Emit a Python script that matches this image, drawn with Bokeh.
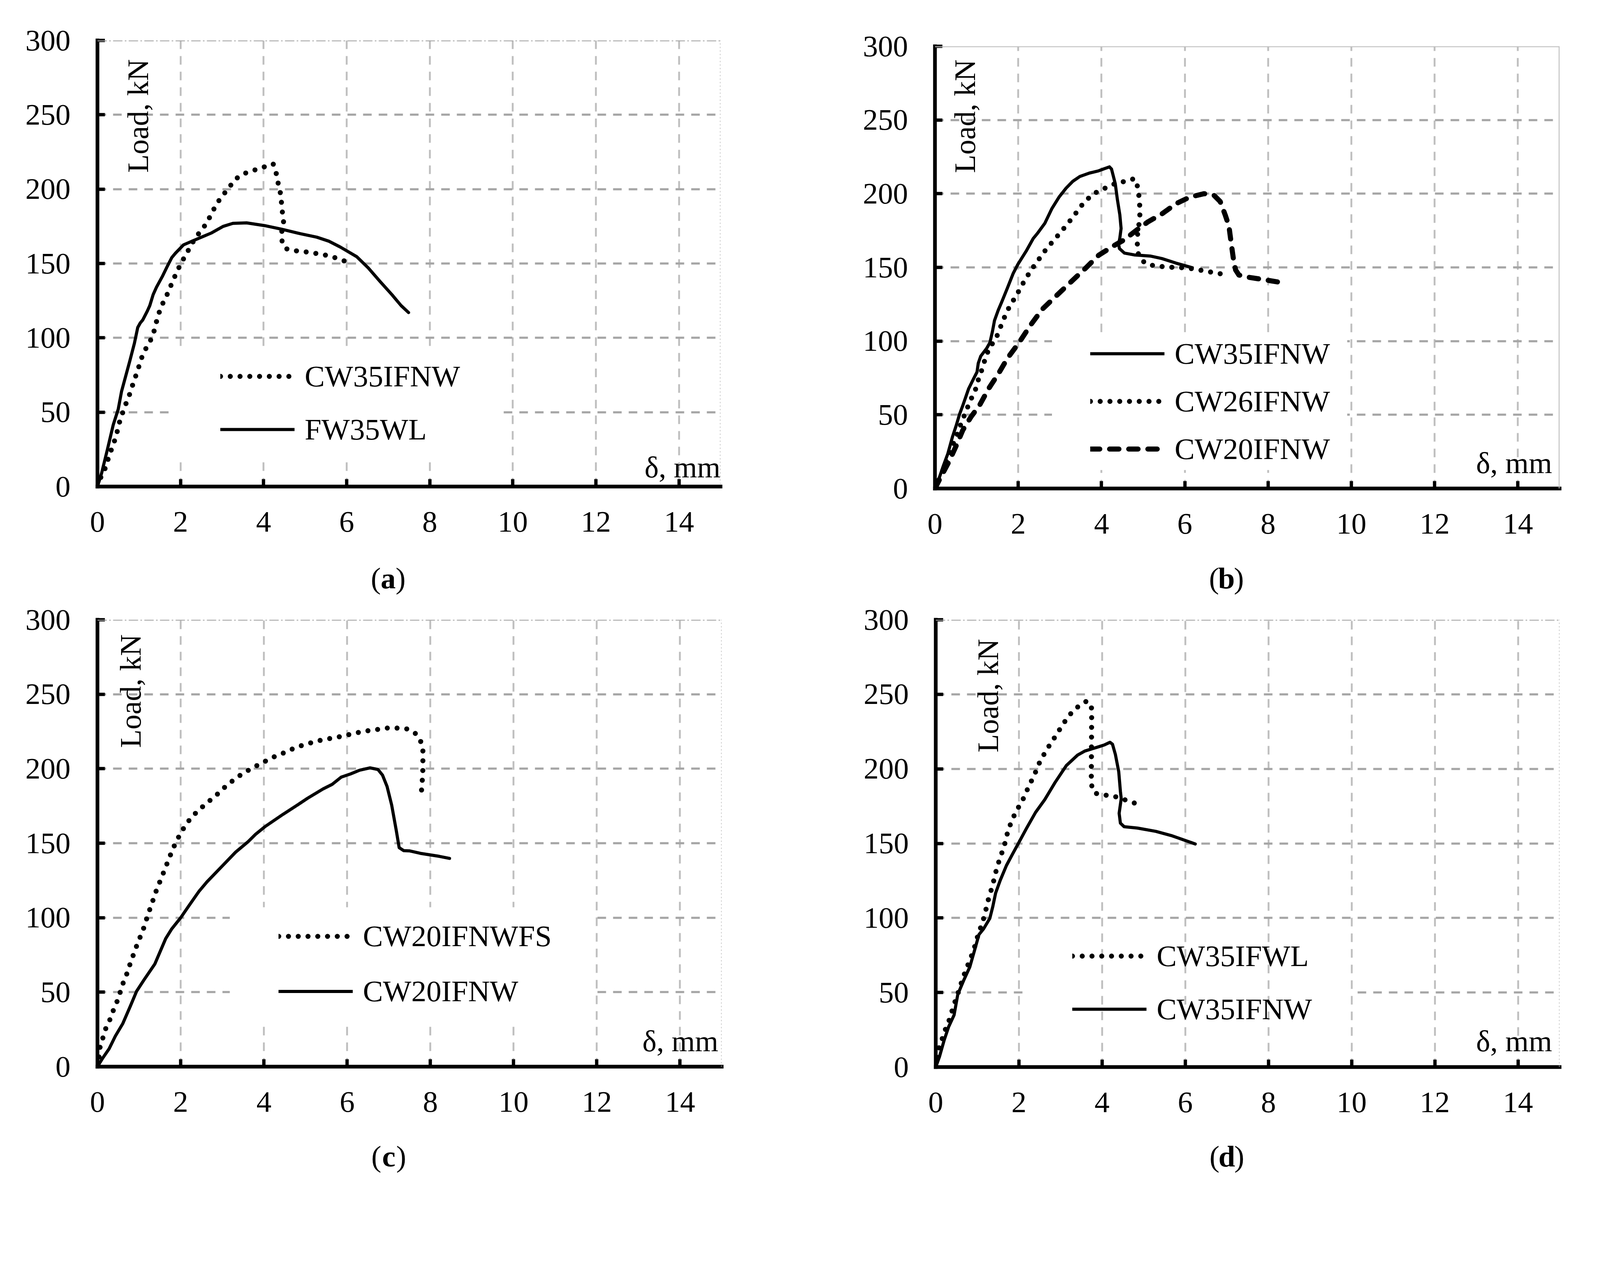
import numpy as np
from bokeh.plotting import figure
from bokeh.models import Range1d, FixedTicker, Span, Label, Legend, LegendItem
from bokeh.layouts import column, row
from bokeh.embed import file_html
from bokeh.resources import INLINE

# ---------------- data ----------------
X_TICKS = [0, 2, 4, 6, 8, 10, 12, 14]
Y_TICKS = [0, 50, 100, 150, 200, 250, 300]
X_MAX = 15
Y_MAX = 300
X_LABEL = "δ, mm"
Y_LABEL = "Load, kN"
PANEL_LETTERS = ["a", "b", "c", "d"]

# panel (a)
A1_NAME = "CW35IFNW"
A1_X = [0, 0.05, 0.17, 0.24, 0.31, 0.39, 0.46, 0.51, 0.58, 0.66, 0.75, 0.82, 0.89, 0.97, 1.03, 1.11,
        1.23, 1.33, 1.39, 1.45, 1.52, 1.62, 1.71, 1.80, 1.89, 1.99, 2.11, 2.21, 2.33, 2.46, 2.60, 2.72,
        2.82, 2.94, 3.08, 3.22, 3.38, 3.58, 3.80, 4.02, 4.23, 4.31, 4.35, 4.40, 4.43, 4.45, 4.48, 4.44,
        4.43, 4.53, 4.75, 4.97, 5.21, 5.43, 5.65, 5.86, 6.08]
A1_Y = [0, 4.5, 11, 17, 23, 29, 35, 41.5, 47.5, 54, 60, 66, 72, 78, 84, 90,
        96, 101, 107.6, 114, 120, 126, 131, 137.5, 143, 149, 155, 160, 166, 171, 176, 182,
        187.5, 193, 198, 203, 208, 211, 213, 215, 217, 210, 204, 198, 191, 185, 178, 172,
        166, 160, 158.6, 158, 157, 156, 154.6, 152.5, 150.4]
A2_NAME = "FW35WL"
A2_X = [0, 0.10, 0.24, 0.38, 0.50, 0.58, 0.78, 0.89, 0.97, 1.03, 1.09, 1.20, 1.26, 1.34, 1.42, 1.57,
        1.68, 1.79, 1.88, 2.07, 2.36, 2.75, 3.03, 3.26, 3.59, 4.02, 4.44, 4.89, 5.28, 5.57, 5.85, 6.24,
        6.52, 6.80, 7.09, 7.31, 7.49]
A2_Y = [0, 9, 25, 41.5, 52, 64, 84.6, 96.4, 107, 110, 112, 118, 121.7, 129, 134, 141.7,
        148, 154, 157, 162.5, 166, 170.6, 175, 177, 177.3, 175.5, 173, 170, 167.7, 165, 161, 154.6,
        147, 138, 129, 121.7, 117]

# panel (b)
B1_NAME = "CW35IFNW"
B1_X = [0, 0.11, 0.20, 0.31, 0.42, 0.51, 0.59, 0.67, 0.81, 0.93, 1.01, 1.04, 1.10, 1.24, 1.32, 1.38,
        1.43, 1.52, 1.60, 1.74, 1.88, 1.99, 2.19, 2.36, 2.47, 2.64, 2.81, 2.98, 3.15, 3.31, 3.48, 3.71,
        3.93, 4.07, 4.19, 4.24, 4.33, 4.38, 4.44, 4.47, 4.44, 4.41, 4.43, 4.55, 4.78, 5.17, 5.45, 5.79, 6.18]
B1_Y = [0, 7.8, 15.3, 23.7, 35, 42.7, 50.3, 56.4, 67.8, 74.6, 79, 85, 89.8, 95, 99, 106.5,
        114, 121, 126.3, 136, 146, 152, 161, 169.6, 173.4, 180, 190, 197.7, 203.8, 208.4, 211.7, 214,
        215.5, 217, 218.2, 216.7, 206.8, 196.2, 185.6, 176.4, 170, 165.8, 162.8, 159.7, 158.5, 157.7, 156, 152.9, 149.8]
B2_NAME = "CW26IFNW"
B2_X = [0, 0.08, 0.17, 0.25, 0.34, 0.42, 0.51, 0.59, 0.67, 0.76, 0.84, 0.96, 1.01, 1.10, 1.15, 1.24,
        1.29, 1.46, 1.54, 1.63, 1.71, 1.83, 1.96, 2.05, 2.19, 2.30, 2.43, 2.57, 2.71, 2.87, 3.01, 3.16,
        3.30, 3.44, 3.58, 3.75, 3.93, 4.16, 4.38, 4.60, 4.79, 4.88, 4.90, 4.92, 4.92, 4.89, 4.86, 4.86,
        4.89, 5.04, 5.27, 5.49, 5.73, 5.96, 6.18, 6.40, 6.63, 6.85, 7.08]
B2_Y = [0, 4.7, 10.8, 16.9, 23, 29, 35.1, 41.2, 47.3, 53.3, 59.4, 65.5, 71.6, 77.7, 83.7, 89.8,
        95, 101.2, 107.3, 113.4, 119, 125.5, 130.9, 136.2, 142.7, 147.9, 152.9, 158.5, 163.8, 168.8, 173.7, 178.6,
        183.7, 188.9, 194.2, 198.5, 202, 204.6, 207.6, 208.4, 210.3, 203.8, 197.7, 190.9, 184, 177.2, 171.1, 164.7,
        158.2, 152.9, 151, 150.5, 150, 149.8, 149.1, 148, 146.8, 145.7, 145]
B3_NAME = "CW20IFNW"
B3_X = [0, 0.14, 0.34, 0.51, 0.67, 0.87, 1.07, 1.29, 1.52, 1.74, 2.02, 2.30, 2.58, 2.92, 3.26, 3.60,
        3.93, 4.27, 4.55, 4.83, 5.12, 5.45, 5.79, 6.12, 6.46, 6.69, 6.85, 6.97, 7.06, 7.11, 7.17, 7.22,
        7.30, 7.53, 7.87, 8.26]
B3_Y = [0, 7.8, 18.4, 29, 39.7, 48.8, 56.4, 67.8, 77.7, 88.3, 99, 111, 121.7, 130.9, 140, 149,
        158.2, 164.3, 168.8, 175, 181, 186.3, 193.2, 197.7, 200, 199.2, 194.7, 185.6, 178, 167.3, 155.2, 148.3,
        144.8, 143.3, 141.8, 140]

# panel (c)
C1_NAME = "CW20IFNWFS"
C1_X = [0, 0.04, 0.06, 0.13, 0.19, 0.29, 0.37, 0.46, 0.54, 0.60, 0.69, 0.76, 0.84, 0.92, 1.00, 1.09,
        1.16, 1.23, 1.31, 1.38, 1.46, 1.55, 1.63, 1.72, 1.80, 1.90, 2.00, 2.13, 2.26, 2.43, 2.60, 2.77,
        2.95, 3.11, 3.30, 3.49, 3.68, 3.89, 4.10, 4.29, 4.51, 4.72, 4.95, 5.17, 5.39, 5.61, 5.84, 6.06,
        6.28, 6.52, 6.74, 6.96, 7.19, 7.42, 7.63, 7.76, 7.82, 7.82, 7.82, 7.81, 7.79, 7.78]
C1_Y = [0, 6.6, 12.8, 19.3, 25, 30.9, 37, 42.9, 49.4, 55, 61, 67, 73.3, 79.5, 85.3, 91.2,
        97.4, 103.4, 109.6, 115.7, 121.5, 127.5, 133.5, 139.5, 145.7, 151.2, 157, 162.5, 167.6, 172, 176.4, 180.2,
        184.6, 189, 193, 196.8, 199.8, 203, 206, 208.6, 211, 213.7, 216, 217.7, 219.3, 220.4, 221.6, 223,
        224.4, 225.6, 226.4, 227.3, 227.3, 226.9, 224, 219, 213, 206.5, 200, 193.7, 187, 180.6]
C2_NAME = "CW20IFNW"
C2_X = [0, 0.13, 0.28, 0.43, 0.61, 0.79, 0.94, 1.12, 1.38, 1.64, 1.78, 2.00, 2.19, 2.44, 2.63, 3.00,
        3.32, 3.62, 3.80, 4.02, 4.46, 4.76, 5.05, 5.42, 5.64, 5.86, 6.08, 6.30, 6.55, 6.74, 6.85, 6.96,
        7.07, 7.18, 7.25, 7.36, 7.51, 7.76, 8.21, 8.46]
C2_Y = [0, 5.9, 12, 20.5, 29, 40.6, 50.6, 58.3, 69, 86, 92.3, 100, 107.7, 117.7, 124, 134.7,
        144, 151, 156, 161, 169.4, 174.8, 180.2, 186.4, 189.5, 194.4, 196.5, 199, 200.6, 199.5, 195.7, 188,
        175.6, 158.6, 147, 145, 144.8, 143.2, 141.2, 139.8]

# panel (d)
D1_NAME = "CW35IFWL"
D1_X = [0, 0.07, 0.15, 0.22, 0.31, 0.38, 0.45, 0.53, 0.60, 0.67, 0.75, 0.84, 0.92, 0.98, 1.05, 1.13,
        1.19, 1.24, 1.30, 1.37, 1.42, 1.48, 1.55, 1.63, 1.69, 1.74, 1.83, 1.92, 2.04, 2.15, 2.23, 2.34,
        2.43, 2.52, 2.64, 2.76, 2.89, 3.01, 3.14, 3.28, 3.45, 3.64, 3.75, 3.74, 3.82, 4.04, 4.27, 4.49,
        4.70, 4.92]
D1_Y = [0, 12.4, 18.5, 24.4, 30.4, 36.6, 42.8, 49, 55.2, 61, 66.9, 73.1, 79.1, 85.3, 91.2, 97.5,
        103.6, 109.7, 115.9, 121.9, 128.3, 134.5, 140.6, 146.8, 152.7, 159.2, 164.9, 171.1, 176.5, 182.4, 188.1, 194,
        199.8, 205.9, 211.4, 217, 222.3, 227.8, 233.2, 238.2, 242.4, 245.6, 240.6, 189.5, 183.7, 182.5, 181.8, 179.8,
        177.8, 175.7]
D2_NAME = "CW35IFNW"
D2_X = [0, 0.09, 0.20, 0.31, 0.44, 0.53, 0.67, 0.82, 0.93, 1.04, 1.15, 1.30, 1.37, 1.44, 1.55, 1.70,
        1.85, 2.00, 2.18, 2.40, 2.62, 2.87, 3.14, 3.41, 3.59, 3.88, 4.06, 4.19, 4.25, 4.32, 4.40, 4.44,
        4.46, 4.41, 4.44, 4.53, 4.85, 5.29, 5.66, 6.24]
D2_Y = [0, 7, 17.8, 27, 34.8, 48.7, 58, 67.2, 78, 88.9, 92.7, 99.7, 107.4, 116.7, 125.2, 135.2,
        143, 150.7, 160, 170.8, 179.3, 190.9, 202.2, 209.2, 212, 214.5, 216.1, 217.8, 216.5, 209.6, 198.1, 185,
        180, 170.2, 163.6, 161.2, 160.3, 158.1, 155.3, 149.6]

# ---------------- styles / layout (page px) ----------------
S = 1 / 1.0625          # page px per photographed px
FONT = "Liberation Serif"
FS = "77px"
STYLES = {
    "solid": dict(line_dash="solid", line_width=8),
    "dotted": dict(line_dash="0 25", line_width=13),
    "dashed": dict(line_dash="24 25", line_width=13),
}

PANELS = [
    dict(series=[(A1_NAME, A1_X, A1_Y, "dotted"), (A2_NAME, A2_X, A2_Y, "solid")],
         width=2047, height=1408, frame=(1595, 1142), left=249, top=103, cap_h=127, cap_y=0.437,
         border_style="dashdot", box=(1.87, 9.74, 19.5, 92), legend=(335, 83, 144),
         ylabel=(0.97, 211), xlabel=(15.0, 13)),
    dict(series=[(B1_NAME, B1_X, B1_Y, "solid"), (B2_NAME, B2_X, B2_Y, "dotted"), (B3_NAME, B3_X, B3_Y, "dashed")],
         width=2040, height=1413, frame=(1599, 1132), left=346, top=118, cap_h=122, cap_y=0.455,
         border_style="solid", box=(2.81, 9.9, 12.5, 106), legend=(423, 43, 130),
         ylabel=(0.72, 214), xlabel=(14.82, 17.3)),
    dict(series=[(C1_NAME, C1_X, C1_Y, "dotted"), (C2_NAME, C2_X, C2_Y, "solid")],
         width=2047, height=1358, frame=(1598, 1144), left=249, top=51, cap_h=125, cap_y=0.472,
         border_style="dashdot", box=(3.18, 11.9, 29, 107), legend=(493, 130, 150),
         ylabel=(0.79, 214), xlabel=(14.92, 17.3)),
    dict(series=[(D1_NAME, D1_X, D1_Y, "dotted"), (D2_NAME, D2_X, D2_Y, "solid")],
         width=2040, height=1358, frame=(1597, 1145), left=348, top=51, cap_h=125, cap_y=0.472,
         border_style="dashdot", box=(2.21, 10.09, 48, 52), legend=(372, 85, 144),
         ylabel=(1.25, 211), xlabel=(14.82, 17.3)),
]


def make_panel(cfg, letter):
    fw, fh = cfg["frame"]
    bl, bt = cfg["left"], cfg["top"]
    br = cfg["width"] - bl - fw
    bb = cfg["height"] - bt - fh
    p = figure(frame_width=fw, frame_height=fh,
               x_range=Range1d(0, X_MAX), y_range=Range1d(0, Y_MAX),
               output_backend="svg", toolbar_location=None, tools="",
               min_border_left=bl, min_border_right=br, min_border_top=bt, min_border_bottom=bb,
               background_fill_color="white", border_fill_color="white", outline_line_color=None)

    # axes
    p.xaxis.ticker = FixedTicker(ticks=X_TICKS)
    p.yaxis.ticker = FixedTicker(ticks=Y_TICKS)
    for ax in (p.xaxis[0], p.yaxis[0]):
        ax.axis_line_width = 9.5
        ax.axis_line_color = "black"
        ax.axis_line_cap = "square"
        ax.major_tick_in = 19
        ax.major_tick_out = 0
        ax.major_tick_line_width = 8.5
        ax.major_tick_line_color = "black"
        ax.minor_tick_line_color = None
        ax.major_label_text_font = FONT
        ax.major_label_text_font_size = FS
        ax.major_label_text_color = "black"
    p.yaxis.major_label_standoff = 69
    p.xaxis.major_label_standoff = 65

    # grid
    p.xgrid.ticker = FixedTicker(ticks=X_TICKS[1:])
    p.ygrid.ticker = FixedTicker(ticks=Y_TICKS[1:-1])
    p.xgrid.grid_line_color = "#bfbfbf"
    p.xgrid.grid_line_width = 4.7
    p.xgrid.grid_line_dash = "22 18"
    p.ygrid.grid_line_color = "#a6a6a6"
    p.ygrid.grid_line_width = 5.6
    p.ygrid.grid_line_dash = "22 18"

    # frame top / right borders
    if cfg["border_style"] == "solid":
        p.add_layout(Span(location=Y_MAX, dimension="width", line_color="#bfbfbf", line_width=4.7))
        p.add_layout(Span(location=X_MAX, dimension="height", line_color="#bfbfbf", line_width=4.7))
    else:
        p.add_layout(Span(location=Y_MAX, dimension="width", line_color="#a6a6a6", line_width=4.7,
                          line_dash="24 6 4 6"))
        p.add_layout(Span(location=X_MAX, dimension="height", line_color="#bfbfbf", line_width=3.8,
                          line_dash="0 9", line_cap="round"))

    # legend background box (hides the grid)
    x0, x1, y0, y1 = cfg["box"]
    p.quad(left=[x0], right=[x1], bottom=[y0], top=[y1], fill_color="white", line_color=None)

    items = []
    for name, xs, ys, style in cfg["series"]:
        r = p.line(xs, ys, line_color="black", line_cap="round", line_join="round", **STYLES[style])
        items.append(LegendItem(label=name, renderers=[r]))

    vx, vy, gh = cfg["legend"]
    legend = Legend(items=items, location=(round(vx * S), round(vy * S)), orientation="vertical",
                    glyph_width=round(202 * S), glyph_height=round(gh * S), label_height=round(gh * S),
                    spacing=0, padding=0, margin=0, label_standoff=round(28 * S),
                    border_line_color=None, background_fill_alpha=0,
                    label_text_font=FONT, label_text_font_size=FS, label_text_color="black")
    p.add_layout(legend)

    lx, ly = cfg["ylabel"]
    p.add_layout(Label(x=lx, y=ly, text=Y_LABEL, angle=np.pi / 2, text_align="left",
                       text_baseline="middle", text_font=FONT, text_font_size=FS, text_color="black"))
    dx, dy = cfg["xlabel"]
    p.add_layout(Label(x=dx, y=dy, text=X_LABEL, text_align="right", text_baseline="alphabetic",
                       text_font=FONT, text_font_size=FS, text_color="black"))

    # caption "(x)" with a bold letter, in a strip aligned with the frame
    c = figure(frame_width=fw, frame_height=cfg["cap_h"], x_range=Range1d(0, X_MAX), y_range=Range1d(0, 1),
               x_axis_type=None, y_axis_type=None, output_backend="svg", toolbar_location=None, tools="",
               min_border_left=bl, min_border_right=br, min_border_top=0, min_border_bottom=0,
               background_fill_color="white", border_fill_color="white", outline_line_color=None)
    cx = X_MAX * 7 / 15
    cy = cfg["cap_y"]
    c.add_layout(Label(x=cx, y=cy, text="(", x_offset=-19, text_align="right", text_baseline="middle",
                       text_font=FONT, text_font_size=FS, text_color="black"))
    c.add_layout(Label(x=cx, y=cy, text=letter, text_align="center", text_baseline="middle",
                       text_font=FONT, text_font_size=FS, text_font_style="bold", text_color="black"))
    c.add_layout(Label(x=cx, y=cy, text=")", x_offset=19, text_align="left", text_baseline="middle",
                       text_font=FONT, text_font_size=FS, text_color="black"))
    return column(p, c)


panels = [make_panel(cfg, letter) for cfg, letter in zip(PANELS, PANEL_LETTERS)]
layout = column(row(panels[0], panels[1]), row(panels[2], panels[3]))

open("out.html", "w").write(file_html(layout, INLINE))
